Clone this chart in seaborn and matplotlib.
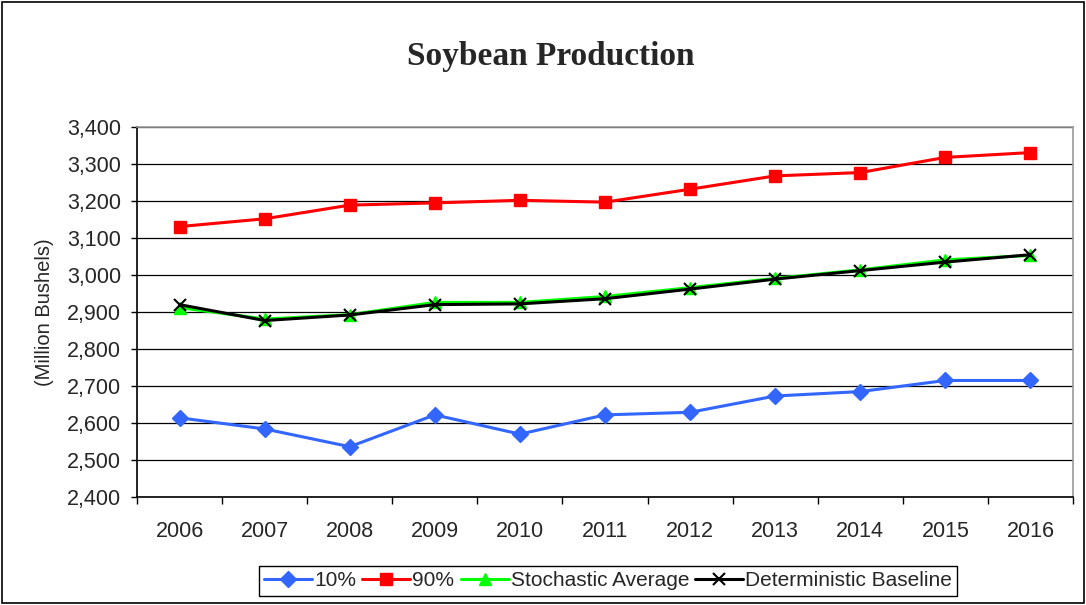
import numpy as np
import pandas as pd
import seaborn as sns
import matplotlib.pyplot as plt
from matplotlib.patches import Rectangle
from matplotlib.ticker import FixedLocator, FuncFormatter

sns.set_style("white")
plt.rcParams['font.family'] = ['Liberation Sans', 'DejaVu Sans']

# values (million bushels)
years = ["2006", "2007", "2008", "2009", "2010", "2011", "2012", "2013", "2014", "2015", "2016"]
p10 = [2614, 2584, 2536, 2622, 2570, 2622, 2629, 2673, 2685, 2715, 2715]
p90 = [3131, 3152, 3189, 3195, 3202, 3197, 3232, 3268, 3277, 3318, 3331]
stoch_avg = [2912, 2881, 2893, 2926, 2926, 2942, 2966, 2991, 3014, 3041, 3053]
det_base = [2920, 2877, 2892, 2920, 2922, 2936, 2962, 2989, 3012, 3035, 3055]

series_names = ["10%", "90%", "Stochastic Average", "Deterministic Baseline"]
series_vals = [p10, p90, stoch_avg, det_base]
colors = ["#3366FF", "#FF0000", "#00FF00", "#000000"]
marks = ["D", "s", "^", "x"]
msizes = [8, 9, 9, 9]
medges = [1.0, 1.0, 1.0, 1.5]

fig = plt.figure(figsize=(10.86, 6.05), dpi=100)
ax = fig.add_axes([0.1262, 0.1785, 0.8618, 0.6115])

# one lineplot call per series (filled and line-art markers can't be mixed in one call)
for name, vals, col, mk, ms, me in zip(series_names, series_vals, colors, marks, msizes, medges):
    d = pd.DataFrame({"idx": range(len(vals)), "value": vals})
    sns.lineplot(data=d, x="idx", y="value", color=col, marker=mk, markersize=ms,
                 markeredgecolor=col, markeredgewidth=me, linewidth=2.2,
                 label=name, ax=ax)

ax.set_xlim(-0.5, len(years) - 0.5)
ax.set_ylim(2400, 3400)
ax.set_yticks(np.arange(2400, 3401, 100))
ax.yaxis.set_major_formatter(FuncFormatter(lambda v, p: f"{int(v):,}"))
ax.set_xticks(range(len(years)))
ax.set_xticklabels(years)
ax.xaxis.set_minor_locator(FixedLocator(np.arange(-0.5, len(years), 1.0)))

ax.tick_params(axis="x", which="major", length=0, pad=17, labelsize=15.5)
ax.tick_params(axis="x", which="minor", length=5, width=1, color="black", direction="out", bottom=True)
ax.tick_params(axis="y", which="major", length=4.5, width=1, color="black", direction="out",
               left=True, pad=7, labelsize=15.5)

ax.grid(axis="y", color="black", linewidth=0.9)
ax.grid(axis="x", visible=False)
ax.set_axisbelow(True)

for side in ["left", "bottom"]:
    ax.spines[side].set_color("black")
    ax.spines[side].set_linewidth(1.2)
for side in ["top", "right"]:
    ax.spines[side].set_color("#999999")
    ax.spines[side].set_linewidth(1.2)

ax.set_xlabel("")
ax.set_ylabel("(Million Bushels)", fontsize=14.5, labelpad=9)

fig.text(0.507, 0.907, "Soybean Production", ha="center", va="center",
         fontsize=24, fontweight="bold", family=["Liberation Serif", "DejaVu Serif"])

handles, labels = ax.get_legend_handles_labels()
ax.get_legend().remove()
leg = fig.legend(handles, labels, loc="center", bbox_to_anchor=(0.560, 0.0397), ncol=4,
                 frameon=True, fancybox=False, edgecolor="black", framealpha=1,
                 fontsize=15, handlelength=2.3, handletextpad=0.1, columnspacing=0.3,
                 borderpad=0.25, borderaxespad=0)
leg.get_frame().set_linewidth(1.0)

# outer chart border
fig.patches.append(Rectangle((0.002, 0.003), 0.996, 0.994, transform=fig.transFigure,
                             fill=False, edgecolor="black", linewidth=1.2))

fig.savefig("out.png", dpi=100)
